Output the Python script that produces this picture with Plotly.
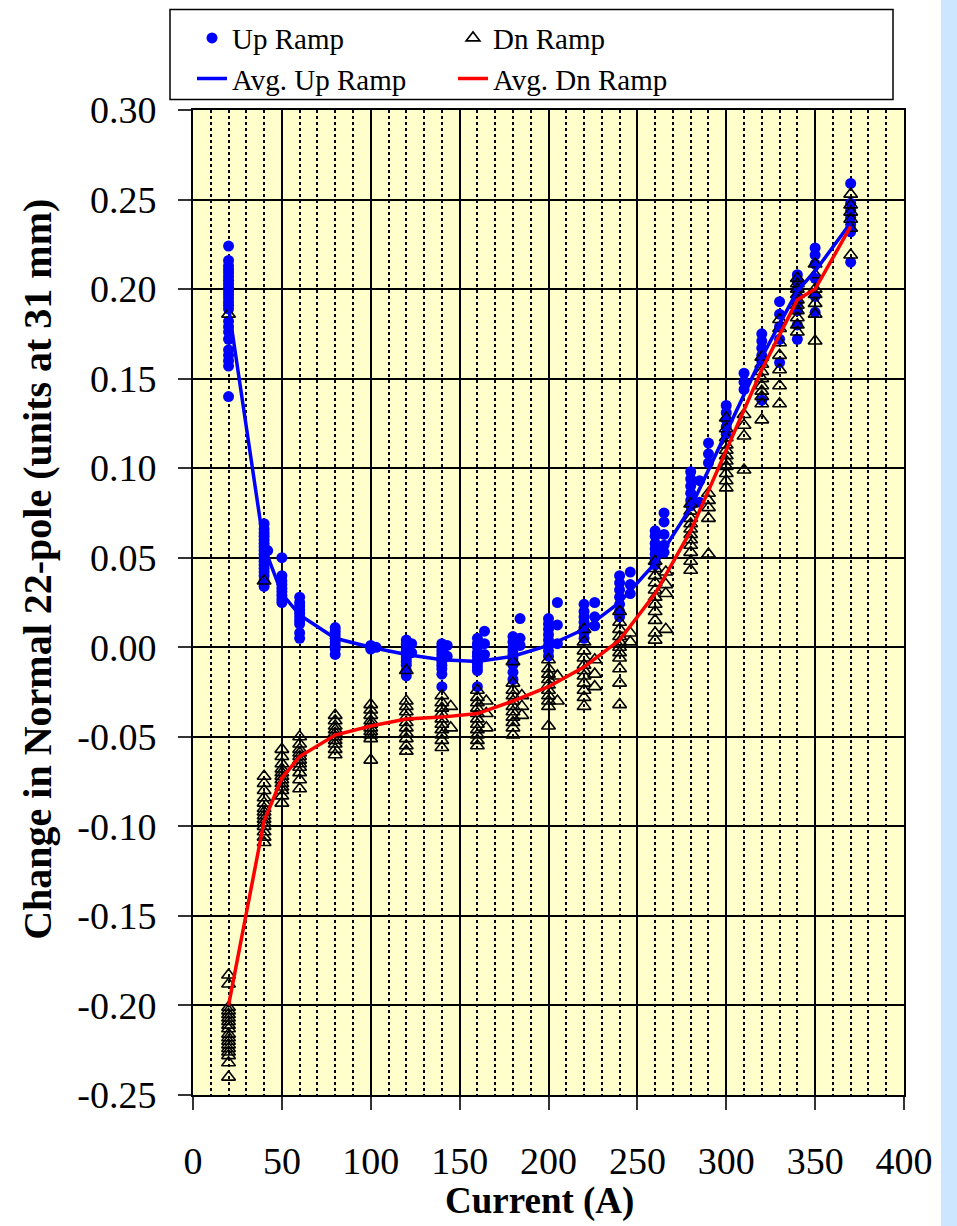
import plotly.graph_objects as go

# ---- data ----
up_currents = [20, 40, 42, 50, 60, 80, 100, 103, 120, 123, 140, 143, 160, 164, 180, 184,
               200, 205, 220, 226, 240, 246, 260, 265, 280, 285, 290, 300, 310, 320, 330,
               340, 350, 370]
up_values = [
    [0.224, 0.216, 0.213, 0.211, 0.209, 0.207, 0.205, 0.203, 0.201, 0.199, 0.197, 0.195,
     0.193, 0.191, 0.189, 0.182, 0.179, 0.176, 0.172, 0.166, 0.163, 0.160, 0.157, 0.140],
    [0.069, 0.066, 0.064, 0.062, 0.060, 0.058, 0.056, 0.054, 0.052, 0.050, 0.048, 0.046,
     0.044, 0.042, 0.040, 0.037, 0.034],
    [0.054],
    [0.050, 0.040, 0.037, 0.035, 0.033, 0.031, 0.029, 0.027, 0.025],
    [0.028, 0.025, 0.023, 0.021, 0.019, 0.017, 0.015, 0.013, 0.008, 0.005],
    [0.011, 0.009, 0.007, 0.005, 0.003, 0.001, -0.001, -0.004],
    [0.001, 0.000, -0.001],
    [0.000],
    [0.004, 0.002, 0.000, -0.002, -0.004, -0.006, -0.008, -0.010, -0.013, -0.016],
    [0.002, -0.003],
    [0.002, 0.000, -0.002, -0.004, -0.006, -0.008, -0.010, -0.012, -0.015, -0.022],
    [0.001, -0.005],
    [0.005, 0.002, 0.000, -0.003, -0.005, -0.007, -0.009, -0.011, -0.013, -0.022],
    [0.009, 0.002, -0.004],
    [0.006, 0.003, 0.000, -0.002, -0.004, -0.006, -0.008, -0.010, -0.014, -0.018],
    [0.016, 0.005, 0.001],
    [0.016, 0.013, 0.010, 0.007, 0.004, 0.001, -0.002, -0.005],
    [0.025, 0.0125, 0.002],
    [0.024, 0.020, 0.017, 0.014, 0.011, 0.008, 0.005],
    [0.025, 0.017, 0.012],
    [0.040, 0.036, 0.032, 0.028, 0.024, 0.020, 0.017],
    [0.042, 0.035, 0.030],
    [0.065, 0.062, 0.058, 0.055, 0.052, 0.049, 0.046],
    [0.075, 0.070, 0.063, 0.057, 0.053],
    [0.098, 0.094, 0.090, 0.086, 0.082, 0.079],
    [0.093, 0.081],
    [0.114, 0.108, 0.103],
    [0.135, 0.131, 0.127, 0.123, 0.119],
    [0.153, 0.148, 0.144],
    [0.175, 0.171, 0.167, 0.163, 0.160, 0.138],
    [0.193, 0.186, 0.179, 0.172, 0.159],
    [0.208, 0.204, 0.200, 0.196, 0.192, 0.188, 0.180, 0.172],
    [0.223, 0.219, 0.214, 0.206, 0.196, 0.187],
    [0.259, 0.248, 0.244, 0.240, 0.236, 0.232, 0.215],
]

dn_currents = [20, 40, 50, 60, 80, 100, 120, 140, 145, 160, 165, 180, 185, 200, 205, 220,
               226, 240, 246, 260, 266, 280, 290, 300, 310, 320, 330, 340, 350, 370]
dn_values = [
    [0.186, -0.183, -0.188, -0.201, -0.203, -0.205, -0.207, -0.209, -0.211, -0.213, -0.216,
     -0.218, -0.220, -0.222, -0.224, -0.226, -0.228, -0.232, -0.240],
    [0.037, -0.072, -0.076, -0.080, -0.084, -0.087, -0.090, -0.092, -0.094, -0.096, -0.098,
     -0.100, -0.103, -0.106, -0.109],
    [-0.057, -0.061, -0.065, -0.068, -0.070, -0.072, -0.074, -0.076, -0.078, -0.080, -0.083, -0.087],
    [-0.050, -0.054, -0.057, -0.059, -0.061, -0.063, -0.065, -0.067, -0.070, -0.074, -0.079],
    [-0.038, -0.041, -0.044, -0.046, -0.048, -0.050, -0.052, -0.054, -0.057, -0.060],
    [-0.032, -0.035, -0.038, -0.041, -0.043, -0.045, -0.047, -0.049, -0.051, -0.063],
    [-0.013, -0.030, -0.033, -0.036, -0.039, -0.042, -0.045, -0.048, -0.051, -0.055, -0.058],
    [-0.027, -0.031, -0.034, -0.037, -0.040, -0.043, -0.046, -0.049, -0.052, -0.056],
    [-0.033, -0.045],
    [-0.024, -0.028, -0.031, -0.034, -0.037, -0.040, -0.043, -0.046, -0.049, -0.052, -0.055],
    [-0.030, -0.037, -0.045],
    [-0.008, -0.020, -0.024, -0.027, -0.030, -0.033, -0.036, -0.039, -0.042, -0.045, -0.049],
    [-0.027, -0.033, -0.038],
    [-0.007, -0.012, -0.015, -0.018, -0.021, -0.024, -0.027, -0.030, -0.033, -0.044],
    [-0.016, -0.030],
    [0.010, 0.003, -0.002, -0.006, -0.010, -0.013, -0.016, -0.020, -0.024, -0.028, -0.033],
    [-0.007, -0.015, -0.022],
    [0.020, 0.014, 0.010, 0.006, 0.003, 0.000, -0.003, -0.006, -0.012, -0.020, -0.032],
    [0.003, 0.008],
    [0.048, 0.044, 0.040, 0.036, 0.032, 0.028, 0.024, 0.020, 0.015, 0.008, 0.004],
    [0.042, 0.035, 0.030, 0.010],
    [0.080, 0.076, 0.072, 0.069, 0.066, 0.063, 0.060, 0.057, 0.053, 0.048, 0.043],
    [0.086, 0.082, 0.078, 0.072, 0.052],
    [0.128, 0.122, 0.117, 0.113, 0.110, 0.107, 0.104, 0.101, 0.097, 0.093, 0.089],
    [0.130, 0.124, 0.118, 0.099],
    [0.162, 0.158, 0.154, 0.150, 0.146, 0.143, 0.140, 0.136, 0.127],
    [0.183, 0.178, 0.170, 0.163, 0.155, 0.146, 0.136],
    [0.206, 0.203, 0.200, 0.197, 0.194, 0.191, 0.188, 0.184, 0.180, 0.176],
    [0.214, 0.208, 0.200, 0.197, 0.192, 0.186, 0.171],
    [0.253, 0.247, 0.243, 0.239, 0.234, 0.219],
]

avg_currents = [20, 40, 50, 60, 80, 100, 120, 140, 160, 180, 200, 220, 240, 260, 280,
                300, 320, 340, 350, 370]
avg_up = [0.190, 0.056, 0.030, 0.018, 0.005, 0.000, -0.004, -0.007, -0.008, -0.005,
          0.001, 0.010, 0.025, 0.047, 0.078, 0.120, 0.162, 0.199, 0.210, 0.237]
avg_dn = [-0.200, -0.097, -0.073, -0.061, -0.049, -0.044, -0.040, -0.039, -0.037, -0.030,
          -0.022, -0.011, 0.004, 0.030, 0.065, 0.110, 0.155, 0.194, 0.200, 0.235]

y_ticks = [0.30, 0.25, 0.20, 0.15, 0.10, 0.05, 0.00, -0.05, -0.10, -0.15, -0.20, -0.25]
x_ticks = [0, 50, 100, 150, 200, 250, 300, 350, 400]


def expand(currents, groups):
    xs, ys = [], []
    for c, vals in zip(currents, groups):
        for v in vals:
            xs.append(c)
            ys.append(v)
    return xs, ys


up_x, up_y = expand(up_currents, up_values)
dn_x, dn_y = expand(dn_currents, dn_values)

FONT = "Liberation Serif"

fig = go.Figure()
fig.add_trace(go.Scatter(
    x=up_x, y=up_y, mode="markers", name="Up Ramp", legend="legend",
    marker=dict(symbol="circle", size=11, color="#0000FF"),
))
fig.add_trace(go.Scatter(
    x=dn_x, y=dn_y, mode="markers", name="Dn Ramp", legend="legend2",
    marker=dict(symbol="triangle-up-open", size=12, color="#000000",
                line=dict(width=1.6, color="#000000")),
))
fig.add_trace(go.Scatter(
    x=avg_currents, y=avg_up, mode="lines", name="Avg. Up Ramp", legend="legend",
    line=dict(color="#0000FF", width=3.5),
))
fig.add_trace(go.Scatter(
    x=avg_currents, y=avg_dn, mode="lines", name="Avg. Dn Ramp", legend="legend2",
    line=dict(color="#FF0000", width=3.5),
))

# plot area in pixels: left 193, right 904, top 110, bottom 1095
L, R, T, B = 193, 904, 110.4, 1095
W, H = R - L, B - T


def px(xp):
    return (xp - L) / W


def py(yp):
    return (B - yp) / H


legend_common = dict(
    font=dict(family=FONT, size=29, color="#000000"),
    bgcolor="rgba(0,0,0,0)", borderwidth=0, orientation="v",
    xanchor="left", yanchor="top", tracegroupgap=0, itemsizing="trace",
)

fig.update_layout(
    width=957, height=1226,
    margin=dict(l=L, r=957 - R, t=T, b=1226 - B, pad=0),
    paper_bgcolor="#FFFFFF",
    plot_bgcolor="#FFFFCC",
    font=dict(family=FONT, size=36, color="#000000"),
    showlegend=True,
    legend=dict(x=px(192), y=py(13), **legend_common),
    legend2=dict(x=px(453), y=py(13), **legend_common),
    shapes=[
        dict(type="rect", xref="paper", yref="paper", x0=px(941), x1=px(970),
             y0=py(1240), y1=py(-10), fillcolor="#CCE6FF", line=dict(width=0),
             layer="below"),
        dict(type="rect", xref="paper", yref="paper", x0=px(170), x1=px(893),
             y0=py(100), y1=py(10), fillcolor="rgba(0,0,0,0)",
             line=dict(color="#000000", width=1.5)),
    ],
    annotations=[
        dict(text="<b>Change in Normal 22-pole (units at 31 mm)</b>", textangle=-90,
             xref="paper", yref="paper", x=px(38), y=py(570),
             xanchor="center", yanchor="middle", showarrow=False,
             font=dict(family=FONT, size=40, color="#000000")),
        dict(text="<b>Current (A)</b>",
             xref="paper", yref="paper", x=px(539), y=py(1201),
             xanchor="center", yanchor="middle", showarrow=False,
             font=dict(family=FONT, size=37, color="#000000")),
    ],
)

fig.update_xaxes(
    range=[0, 400], tickvals=x_ticks, ticktext=[str(v) for v in x_ticks],
    ticks="outside", ticklen=13, tickwidth=1.5, tickcolor="#333333",
    ticklabelstandoff=18,
    tickfont=dict(family=FONT, size=38),
    showgrid=True, gridcolor="#000000", gridwidth=1.5,
    minor=dict(dtick=10, showgrid=True, gridcolor="#000000", gridwidth=2.4,
               griddash="dot", ticks=""),
    showline=True, linecolor="#000000", linewidth=2, mirror=True,
    zeroline=False,
)
fig.update_yaxes(
    range=[-0.25, 0.30], tickvals=y_ticks,
    ticktext=[f"{v:.2f}".replace("-0.00", "0.00") for v in y_ticks],
    ticks="outside", ticklen=13, tickwidth=1.5, tickcolor="#333333",
    ticklabelstandoff=14,
    tickfont=dict(family=FONT, size=38),
    showgrid=True, gridcolor="#000000", gridwidth=1.5,
    showline=True, linecolor="#000000", linewidth=2, mirror=True,
    zeroline=False,
)

fig.write_html("out.html")
